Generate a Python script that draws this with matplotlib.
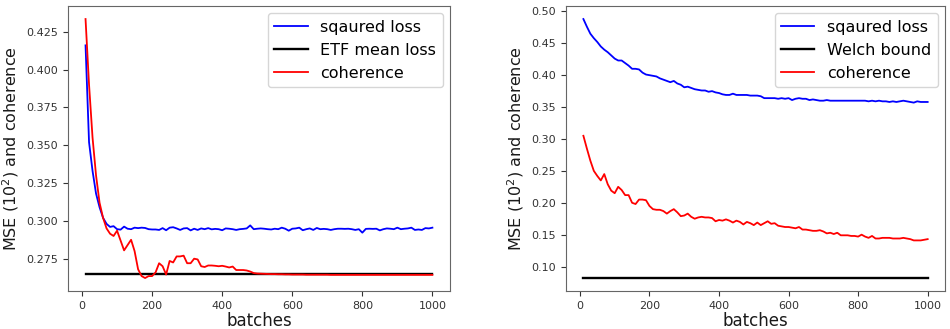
import numpy as np
import matplotlib
matplotlib.use("Agg")
import matplotlib.pyplot as plt

batches = list(range(10, 1001, 10))

left_squared = [0.416, 0.352, 0.333, 0.318, 0.309, 0.302, 0.298, 0.296, 0.2965, 0.2945,
                0.2942, 0.2962, 0.2948, 0.2945, 0.2955, 0.2952, 0.2955, 0.2953, 0.2945, 0.2943,
                0.2943, 0.2940, 0.2952, 0.2938, 0.2955, 0.2958, 0.2950, 0.2940, 0.2950, 0.2952,
                0.2937, 0.2948, 0.2940, 0.2950, 0.2945, 0.2952, 0.2944, 0.2947, 0.2945, 0.2938,
                0.2950, 0.2948, 0.2945, 0.2940, 0.2945, 0.2947, 0.2950, 0.2970, 0.2945, 0.2948,
                0.2950, 0.2948, 0.2945, 0.2943, 0.2948, 0.2945, 0.2955, 0.2948, 0.2935, 0.2948,
                0.2950, 0.2955, 0.2938, 0.2945, 0.2950, 0.2940, 0.2953, 0.2945, 0.2947, 0.2945,
                0.2940, 0.2945, 0.2948, 0.2948, 0.2947, 0.2948, 0.2945, 0.2940, 0.2945, 0.2922,
                0.2947, 0.2948, 0.2947, 0.2948, 0.2937, 0.2945, 0.2950, 0.2948, 0.2945, 0.2955,
                0.2945, 0.2948, 0.2950, 0.2955, 0.2940, 0.2943, 0.2940, 0.2952, 0.2950, 0.2955]

left_coherence = [0.4334, 0.390, 0.355, 0.330, 0.312, 0.302, 0.295, 0.2915, 0.2900, 0.2935,
                  0.2870, 0.2805, 0.2840, 0.2875, 0.2800, 0.2680, 0.2635, 0.2622, 0.2635, 0.2635,
                  0.2660, 0.2720, 0.2700, 0.2645, 0.2735, 0.2725, 0.2765, 0.2765, 0.2770, 0.2720,
                  0.2720, 0.2750, 0.2745, 0.2700, 0.2695, 0.2705, 0.2705, 0.2703, 0.2700, 0.2703,
                  0.2698, 0.2692, 0.2698, 0.2675, 0.2675, 0.2675, 0.2672, 0.2665, 0.2655, 0.2652,
                  0.2651, 0.2650, 0.2649, 0.2648, 0.2648, 0.2647, 0.2647, 0.2646, 0.2646, 0.2645,
                  0.2645, 0.2645, 0.2645, 0.2644, 0.2644, 0.2644, 0.2644, 0.2644, 0.2644, 0.2644,
                  0.2643, 0.2643, 0.2643, 0.2643, 0.2643, 0.2643, 0.2643, 0.2643, 0.2643, 0.2643,
                  0.2643, 0.2643, 0.2643, 0.2643, 0.2643, 0.2643, 0.2643, 0.2643, 0.2643, 0.2643,
                  0.2643, 0.2643, 0.2643, 0.2643, 0.2643, 0.2643, 0.2643, 0.2643, 0.2643, 0.2643]

etf_mean_loss = 0.265

right_squared = [0.488, 0.476, 0.465, 0.458, 0.452, 0.445, 0.440, 0.436, 0.431, 0.426,
                 0.423, 0.423, 0.419, 0.415, 0.410, 0.410, 0.409, 0.404, 0.401, 0.400,
                 0.399, 0.398, 0.395, 0.393, 0.391, 0.389, 0.391, 0.387, 0.385, 0.381,
                 0.382, 0.380, 0.378, 0.377, 0.376, 0.376, 0.374, 0.375, 0.373, 0.372,
                 0.370, 0.369, 0.369, 0.371, 0.369, 0.369, 0.369, 0.369, 0.368, 0.368,
                 0.368, 0.367, 0.364, 0.364, 0.364, 0.364, 0.363, 0.364, 0.363, 0.364,
                 0.361, 0.363, 0.364, 0.363, 0.363, 0.361, 0.362, 0.361, 0.360, 0.360,
                 0.361, 0.360, 0.360, 0.360, 0.360, 0.360, 0.360, 0.360, 0.360, 0.360,
                 0.360, 0.360, 0.359, 0.360, 0.359, 0.360, 0.359, 0.359, 0.358, 0.359,
                 0.358, 0.359, 0.360, 0.359, 0.358, 0.357, 0.359, 0.358, 0.358, 0.358]

right_coherence = [0.305, 0.285, 0.266, 0.250, 0.242, 0.235, 0.245, 0.229, 0.219, 0.215,
                   0.225, 0.220, 0.212, 0.212, 0.200, 0.198, 0.205, 0.205, 0.204, 0.195,
                   0.190, 0.189, 0.189, 0.187, 0.183, 0.187, 0.190, 0.185, 0.179, 0.180,
                   0.183, 0.178, 0.175, 0.177, 0.178, 0.177, 0.177, 0.176, 0.171, 0.173,
                   0.172, 0.174, 0.172, 0.169, 0.172, 0.170, 0.166, 0.170, 0.168, 0.165,
                   0.169, 0.165, 0.168, 0.171, 0.167, 0.168, 0.164, 0.163, 0.162, 0.162,
                   0.161, 0.160, 0.162, 0.158, 0.158, 0.157, 0.156, 0.156, 0.157, 0.155,
                   0.152, 0.153, 0.151, 0.153, 0.149, 0.149, 0.149, 0.148, 0.148, 0.147,
                   0.150, 0.147, 0.145, 0.148, 0.144, 0.144, 0.145, 0.145, 0.145, 0.144,
                   0.144, 0.144, 0.145, 0.144, 0.143, 0.141, 0.141, 0.141, 0.142, 0.143]

welch_bound = 0.082

fig = plt.figure(figsize=(9.5, 3.29), dpi=100)
ax1 = fig.add_axes([0.0716, 0.1155, 0.402, 0.866])
ax2 = fig.add_axes([0.5958, 0.1155, 0.399, 0.866])

lw = 1.3
panels = [
    (ax1, left_squared, left_coherence, etf_mean_loss, "ETF mean loss"),
    (ax2, right_squared, right_coherence, welch_bound, "Welch bound"),
]
for ax, sq, coh, ref, ref_label in panels:
    ax.plot(batches, sq, color="blue", lw=lw, label="sqaured loss")
    ax.plot([batches[0], batches[-1]], [ref, ref], color="black", lw=lw + 0.4, label=ref_label)
    ax.plot(batches, coh, color="red", lw=lw, label="coherence")
    ax.set_xlabel("batches", fontsize=12, color="0.1", labelpad=1)
    ax.set_ylabel("MSE ($10^2$) and coherence", fontsize=11.5, color="0.1")
    ax.set_xticks([0, 200, 400, 600, 800, 1000])
    ax.tick_params(labelsize=8, colors="0.2", length=3.5)
    for s in ax.spines.values():
        s.set_color("0.4")
    ax.legend(loc="upper right", fontsize=11.5, handlelength=2.1, framealpha=0.8,
              borderaxespad=0.45)

ax1.set_yticks([0.275, 0.300, 0.325, 0.350, 0.375, 0.400, 0.425])
ax1.set_xlim(-40, 1050)
ax2.set_xlim(-40, 1050)

fig.savefig("out.png", dpi=100)
